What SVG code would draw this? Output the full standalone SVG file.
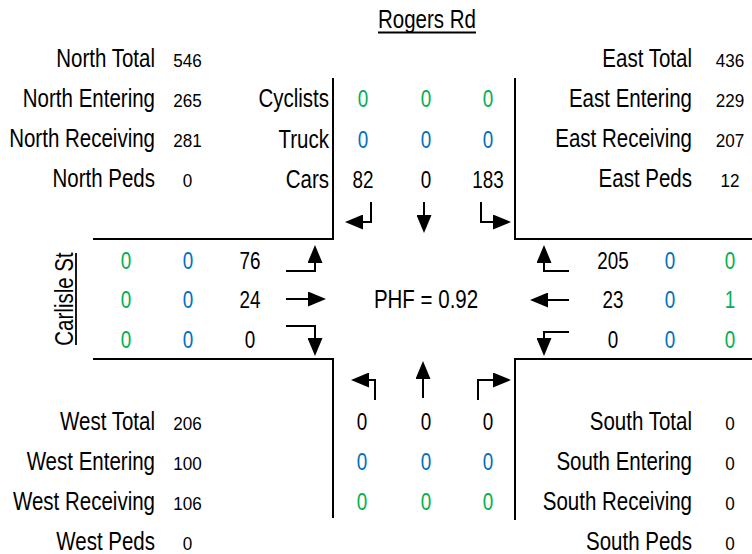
<svg xmlns="http://www.w3.org/2000/svg" width="752" height="554" viewBox="0 0 752 554">
<defs>
<style>
text{font-family:"Liberation Sans",Arial,sans-serif;fill:#000}
.lb{font-size:25px}
.sm{font-size:18px}
.gn{font-size:23px}
.e{text-anchor:end}
.m{text-anchor:middle}
.g{fill:#00B050}
.b{fill:#0070C0}
.road{fill:none;stroke:#000;stroke-width:2}
.arr{fill:none;stroke:#000;stroke-width:2;marker-end:url(#ah)}
.ul{stroke:#000;stroke-width:1.8}
</style>
<marker id="ah" viewBox="0 0 18 15" markerWidth="18" markerHeight="15" refX="14" refY="7.5" orient="auto" markerUnits="userSpaceOnUse">
<path d="M0,0 L18,7.5 L0,15 z" fill="#000"/>
</marker>
</defs>
<rect width="752" height="554" fill="#fff"/>

<g id="title-rogers">
<text class="lb m" transform="translate(427,28) scale(0.82,1)">Rogers Rd</text>
<line class="ul" x1="378" y1="32.5" x2="476" y2="32.5"/>
</g>

<g id="title-carlisle">
<text class="lb m" transform="translate(73,299) rotate(-90) scale(0.82,1)">Carlisle St</text>
<line class="ul" x1="76" y1="253" x2="76" y2="345"/>
</g>

<g id="north-summary">
<text class="lb e" transform="translate(155,66.5) scale(0.82,1)">North Total</text>
<text class="lb e" transform="translate(155,106.5) scale(0.82,1)">North Entering</text>
<text class="lb e" transform="translate(155,146.5) scale(0.82,1)">North Receiving</text>
<text class="lb e" transform="translate(155,187) scale(0.82,1)">North Peds</text>
<text class="sm m" transform="translate(187.5,66.5) scale(0.95,1)">546</text>
<text class="sm m" transform="translate(187.5,106.5) scale(0.95,1)">265</text>
<text class="sm m" transform="translate(187.5,146.5) scale(0.95,1)">281</text>
<text class="sm m" transform="translate(187.5,187) scale(0.95,1)">0</text>
</g>

<g id="east-summary">
<text class="lb e" transform="translate(692,66.5) scale(0.82,1)">East Total</text>
<text class="lb e" transform="translate(692,106.5) scale(0.82,1)">East Entering</text>
<text class="lb e" transform="translate(692,146.5) scale(0.82,1)">East Receiving</text>
<text class="lb e" transform="translate(692,187) scale(0.82,1)">East Peds</text>
<text class="sm m" transform="translate(730,66.5) scale(0.95,1)">436</text>
<text class="sm m" transform="translate(730,106.5) scale(0.95,1)">229</text>
<text class="sm m" transform="translate(730,146.5) scale(0.95,1)">207</text>
<text class="sm m" transform="translate(730,187) scale(0.95,1)">12</text>
</g>

<g id="west-summary">
<text class="lb e" transform="translate(155,429.5) scale(0.82,1)">West Total</text>
<text class="lb e" transform="translate(155,469.5) scale(0.82,1)">West Entering</text>
<text class="lb e" transform="translate(155,509.5) scale(0.82,1)">West Receiving</text>
<text class="lb e" transform="translate(155,550) scale(0.82,1)">West Peds</text>
<text class="sm m" transform="translate(187.5,429.5) scale(0.95,1)">206</text>
<text class="sm m" transform="translate(187.5,469.5) scale(0.95,1)">100</text>
<text class="sm m" transform="translate(187.5,509.5) scale(0.95,1)">106</text>
<text class="sm m" transform="translate(187.5,550) scale(0.95,1)">0</text>
</g>

<g id="south-summary">
<text class="lb e" transform="translate(692,429.5) scale(0.82,1)">South Total</text>
<text class="lb e" transform="translate(692,469.5) scale(0.82,1)">South Entering</text>
<text class="lb e" transform="translate(692,509.5) scale(0.82,1)">South Receiving</text>
<text class="lb e" transform="translate(692,550) scale(0.82,1)">South Peds</text>
<text class="sm m" transform="translate(730,429.5) scale(0.95,1)">0</text>
<text class="sm m" transform="translate(730,469.5) scale(0.95,1)">0</text>
<text class="sm m" transform="translate(730,509.5) scale(0.95,1)">0</text>
<text class="sm m" transform="translate(730,550) scale(0.95,1)">0</text>
</g>

<g id="north-counts">
<text class="lb e" transform="translate(329,107) scale(0.82,1)">Cyclists</text>
<text class="lb e" transform="translate(329,147.5) scale(0.82,1)">Truck</text>
<text class="lb e" transform="translate(329,188) scale(0.82,1)">Cars</text>
<text class="gn m g" transform="translate(363,107) scale(0.82,1)">0</text>
<text class="gn m g" transform="translate(426,107) scale(0.82,1)">0</text>
<text class="gn m g" transform="translate(488,107) scale(0.82,1)">0</text>
<text class="gn m b" transform="translate(363,147.5) scale(0.82,1)">0</text>
<text class="gn m b" transform="translate(426,147.5) scale(0.82,1)">0</text>
<text class="gn m b" transform="translate(488,147.5) scale(0.82,1)">0</text>
<text class="gn m" transform="translate(363,188) scale(0.82,1)">82</text>
<text class="gn m" transform="translate(426,188) scale(0.82,1)">0</text>
<text class="gn m" transform="translate(488,188) scale(0.82,1)">183</text>
</g>

<g id="west-counts">
<text class="gn m g" transform="translate(126,268.5) scale(0.82,1)">0</text>
<text class="gn m b" transform="translate(188,268.5) scale(0.82,1)">0</text>
<text class="gn m" transform="translate(250,268.5) scale(0.82,1)">76</text>
<text class="gn m g" transform="translate(126,308) scale(0.82,1)">0</text>
<text class="gn m b" transform="translate(188,308) scale(0.82,1)">0</text>
<text class="gn m" transform="translate(250,308) scale(0.82,1)">24</text>
<text class="gn m g" transform="translate(126,348) scale(0.82,1)">0</text>
<text class="gn m b" transform="translate(188,348) scale(0.82,1)">0</text>
<text class="gn m" transform="translate(250,348) scale(0.82,1)">0</text>
</g>

<g id="east-counts">
<text class="gn m" transform="translate(613,268.5) scale(0.82,1)">205</text>
<text class="gn m b" transform="translate(670,268.5) scale(0.82,1)">0</text>
<text class="gn m g" transform="translate(730,268.5) scale(0.82,1)">0</text>
<text class="gn m" transform="translate(613,308) scale(0.82,1)">23</text>
<text class="gn m b" transform="translate(670,308) scale(0.82,1)">0</text>
<text class="gn m g" transform="translate(730,308) scale(0.82,1)">1</text>
<text class="gn m" transform="translate(613,348) scale(0.82,1)">0</text>
<text class="gn m b" transform="translate(670,348) scale(0.82,1)">0</text>
<text class="gn m g" transform="translate(730,348) scale(0.82,1)">0</text>
</g>

<g id="south-counts">
<text class="gn m" transform="translate(362,429.5) scale(0.82,1)">0</text>
<text class="gn m" transform="translate(426,429.5) scale(0.82,1)">0</text>
<text class="gn m" transform="translate(488,429.5) scale(0.82,1)">0</text>
<text class="gn m b" transform="translate(362,469.5) scale(0.82,1)">0</text>
<text class="gn m b" transform="translate(426,469.5) scale(0.82,1)">0</text>
<text class="gn m b" transform="translate(488,469.5) scale(0.82,1)">0</text>
<text class="gn m g" transform="translate(362,509.5) scale(0.82,1)">0</text>
<text class="gn m g" transform="translate(426,509.5) scale(0.82,1)">0</text>
<text class="gn m g" transform="translate(488,509.5) scale(0.82,1)">0</text>
</g>

<g id="phf">
<text class="lb m" transform="translate(426,308) scale(0.82,1)">PHF = 0.92</text>
</g>

<g id="connectors">
<path class="road" d="M93,239 H333 V78"/>
<path class="road" d="M515,78 V239 H752"/>
<path class="road" d="M93,359 H333 V518"/>
<path class="road" d="M752,359 H515 V520"/>

<path class="arr" d="M371,202 V222 H349"/>
<path class="arr" d="M424,202 V229"/>
<path class="arr" d="M481,202 V222 H507"/>

<path class="arr" d="M286,271 H315 V249"/>
<path class="arr" d="M286,299 H322"/>
<path class="arr" d="M286,326 H315 V352"/>

<path class="arr" d="M569,271 H544 V249"/>
<path class="arr" d="M569,300 H534"/>
<path class="arr" d="M569,332 H544 V352"/>

<path class="arr" d="M375,400 V380 H355"/>
<path class="arr" d="M423,398 V365"/>
<path class="arr" d="M478,400 V380 H507"/>
</g>
</svg>
